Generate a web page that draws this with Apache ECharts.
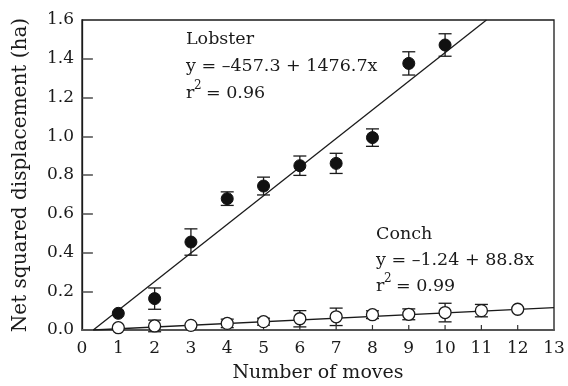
<!DOCTYPE html>
<html><head><meta charset="utf-8">
<script src="https://cdn.jsdelivr.net/npm/echarts@6/dist/echarts.min.js"></script>
<style>html,body{margin:0;padding:0;background:#fff}#c{width:568px;height:386px}</style>
</head><body><div id="c"></div>
<script>
// Data
var lobsterX = [1, 2, 3, 4, 5, 6, 7, 8, 9, 10];
var lobsterY = [0.086, 0.162, 0.454, 0.678, 0.743, 0.848, 0.860, 0.993, 1.376, 1.471];
var lobsterErr = [0.0, 0.055, 0.068, 0.035, 0.046, 0.050, 0.052, 0.045, 0.060, 0.058];
var conchX = [1, 2, 3, 4, 5, 6, 7, 8, 9, 10, 11, 12];
var conchY = [0.012, 0.021, 0.024, 0.034, 0.043, 0.058, 0.068, 0.079, 0.081, 0.090, 0.100, 0.107];
var conchErr = [0.0, 0.030, 0.0, 0.022, 0.018, 0.042, 0.045, 0.020, 0.028, 0.048, 0.032, 0.0];
var lobsterLine = [[0.31, 0], [11.14, 1.6]];
var conchLine = [[0.31, 0.0], [13, 0.1153]];
var xTicks = [0,1,2,3,4,5,6,7,8,9,10,11,12,13];
var yTicks = [0.0,0.2,0.4,0.6,0.8,1.0,1.2,1.4,1.6];

var FONT = 'DejaVu Serif';
var INK = '#1a1a1a';
function pairs(xs, ys){ return xs.map(function(x,i){return [x, ys[i]];}); }
function errData(xs, ys, es){ return xs.map(function(x,i){return [x, ys[i]-es[i], ys[i]+es[i]];}).filter(function(d,i){return es[i]>0;}); }
function errRender(params, api){
  var x = api.value(0), lo = api.value(1), hi = api.value(2);
  var pLo = api.coord([x, lo]), pHi = api.coord([x, hi]);
  var w = 6.5;
  var st = {stroke:INK, lineWidth:1.3, fill:null};
  return {type:'group', children:[
    {type:'line', shape:{x1:pLo[0],y1:pLo[1],x2:pHi[0],y2:pHi[1]}, style:st},
    {type:'line', shape:{x1:pLo[0]-w,y1:pLo[1],x2:pLo[0]+w,y2:pLo[1]}, style:st},
    {type:'line', shape:{x1:pHi[0]-w,y1:pHi[1],x2:pHi[0]+w,y2:pHi[1]}, style:st}
  ]};
}
// x tick marks drawn through the axis scales
var xTickData = xTicks.slice(1, -1).map(function(v){ return [v, 0]; });
function xTickRender(params, api){
  var p = api.coord([api.value(0), api.value(1)]);
  return {type:'group', children:[{type:'line', shape:{x1:p[0], y1:p[1], x2:p[0], y2:p[1]-5},
    style:{stroke:'#333', lineWidth:1.2, fill:null}}]};
}
// y tick marks as markLine segments from the axis inward
var yTickLines = yTicks.slice(1, -1).map(function(v){
  return [{coord:[0.02, v]}, {coord:[0.3, v]}];
});
function sup(left, top, rest){
  return {type:'group', left:left, top:top, children:[
    {type:'text', x:0, y:4, style:{text:'r', font:'17.5px "DejaVu Serif"', fill:INK}},
    {type:'text', x:8, y:0, style:{text:'2', font:'12px "DejaVu Serif"', fill:INK}},
    {type:'text', x:20, y:4, style:{text:rest, font:'17.5px "DejaVu Serif"', fill:INK}}]};
}
var chart = echarts.init(document.getElementById('c'), null, {renderer:'canvas'});
chart.setOption({
  animation:false,
  backgroundColor:'#fff',
  grid:{left:82, right:14, top:20, bottom:56, containLabel:false, outerBoundsMode:'none',
        show:true, borderColor:INK, borderWidth:1.3},
  xAxis:{type:'value', min:0, max:13, interval:1,
    name:'Number of moves', nameLocation:'middle', nameGap:34,
    nameTextStyle:{fontFamily:FONT, fontSize:19, color:INK},
    axisLine:{show:true, onZero:false, lineStyle:{color:'#555', width:2}},
    axisTick:{show:false},
    axisLabel:{fontFamily:FONT, fontSize:17, color:INK, margin:10, formatter:function(v){return xTicks.indexOf(v)>=0?String(v):'';}},
    splitLine:{show:false}},
  yAxis:{type:'value', min:0, max:1.6, interval:0.2,
    name:'Net squared displacement (ha)', nameLocation:'middle', nameGap:51, nameRotate:90,
    nameTextStyle:{fontFamily:FONT, fontSize:20, color:INK},
    axisLine:{show:true, onZero:false, lineStyle:{color:INK, width:1.3}},
    axisTick:{show:false},
    axisLabel:{fontFamily:FONT, fontSize:17, color:INK, margin:8, formatter:function(v){return v.toFixed(1);}},
    splitLine:{show:false}},
  series:[
    {type:'custom', data:xTickData, renderItem:xTickRender, encode:{x:0,y:1}, z:5, clip:false, silent:true},
    {type:'line', data:lobsterLine, symbol:'none', lineStyle:{color:INK, width:1.3}, z:2, clip:true,
      markLine:{silent:true, symbol:['none','none'], label:{show:false}, animation:false,
        lineStyle:{color:'#6a6a6a', width:1.8, type:'solid'}, data:yTickLines}},
    {type:'line', data:conchLine, symbol:'none', lineStyle:{color:INK, width:1.3}, z:2, clip:true},
    {type:'custom', data:errData(lobsterX, lobsterY, lobsterErr), renderItem:errRender, encode:{x:0,y:[1,2]}, z:3},
    {type:'custom', data:errData(conchX, conchY, conchErr), renderItem:errRender, encode:{x:0,y:[1,2]}, z:3},
    {type:'scatter', data:pairs(lobsterX, lobsterY), symbol:'circle', symbolSize:12, itemStyle:{color:'#111', borderColor:'#111', borderWidth:1, opacity:1}, z:4},
    {type:'scatter', data:pairs(conchX, conchY), symbol:'circle', symbolSize:12, itemStyle:{color:'#fff', borderColor:INK, borderWidth:1.3, opacity:1}, z:6}
  ],
  graphic:[
    {type:'text', left:186, top:30, style:{text:'Lobster', font:'17.5px "DejaVu Serif"', fill:INK}},
    {type:'text', left:186, top:57, style:{text:'y = –457.3 + 1476.7x', font:'17.5px "DejaVu Serif"', fill:INK}},
    sup(186, 80, '= 0.96'),
    {type:'text', left:376, top:225, style:{text:'Conch', font:'17.5px "DejaVu Serif"', fill:INK}},
    {type:'text', left:376, top:251, style:{text:'y = –1.24 + 88.8x', font:'17.5px "DejaVu Serif"', fill:INK}},
    sup(376, 273, '= 0.99')
  ]
});
</script></body></html>
